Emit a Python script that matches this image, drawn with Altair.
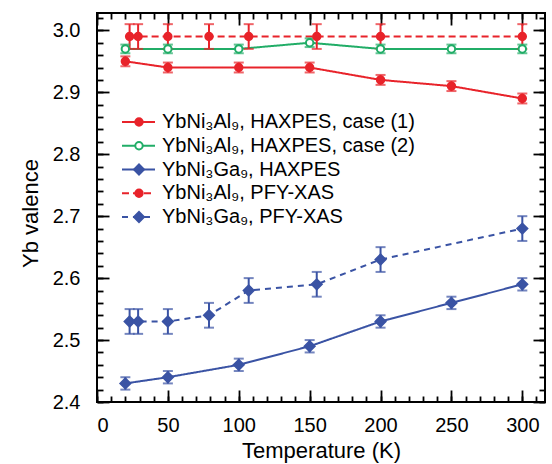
import altair as alt
import pandas as pd

# ---------------- data ----------------
series_names = ["al_hax1", "al_hax2", "ga_hax", "al_pfy", "ga_pfy"]
legend_labels = [
    "YbNi₃Al₉, HAXPES, case (1)",
    "YbNi₃Al₉, HAXPES, case (2)",
    "YbNi₃Ga₉, HAXPES",
    "YbNi₃Al₉, PFY-XAS",
    "YbNi₃Ga₉, PFY-XAS",
]

temp_haxpes = [20, 50, 100, 150, 200, 250, 300]
al_hax_case1 = [2.95, 2.94, 2.94, 2.94, 2.92, 2.91, 2.89]
al_hax_case1_err = [0.008, 0.008, 0.008, 0.008, 0.008, 0.008, 0.008]
al_hax_case2 = [2.97, 2.97, 2.97, 2.98, 2.97, 2.97, 2.97]
al_hax_case2_err = [0.007, 0.007, 0.007, 0.007, 0.007, 0.007, 0.007]
ga_hax = [2.43, 2.44, 2.46, 2.49, 2.53, 2.56, 2.59]
ga_hax_err = [0.01, 0.01, 0.01, 0.01, 0.01, 0.01, 0.01]

temp_pfy = [23, 29, 50, 79, 107, 155, 200, 300]
al_pfy = [2.99, 2.99, 2.99, 2.99, 2.99, 2.99, 2.99, 2.99]
al_pfy_err = [0.02, 0.02, 0.02, 0.02, 0.02, 0.02, 0.02, 0.02]
ga_pfy = [2.53, 2.53, 2.53, 2.54, 2.58, 2.59, 2.63, 2.68]
ga_pfy_err = [0.02, 0.02, 0.02, 0.02, 0.02, 0.02, 0.02, 0.02]

x_major = [0, 50, 100, 150, 200, 250, 300]
x_minor = [0, 10, 20, 30, 40, 50, 60, 70, 80, 90, 100, 110, 120, 130, 140, 150,
           160, 170, 180, 190, 200, 210, 220, 230, 240, 250, 260, 270, 280, 290, 300, 310]
y_major = [2.4, 2.5, 2.6, 2.7, 2.8, 2.9, 3.0]
y_minor = [2.4, 2.42, 2.44, 2.46, 2.48, 2.5, 2.52, 2.54, 2.56, 2.58, 2.6, 2.62, 2.64,
           2.66, 2.68, 2.7, 2.72, 2.74, 2.76, 2.78, 2.8, 2.82, 2.84, 2.86, 2.88, 2.9,
           2.92, 2.94, 2.96, 2.98, 3.0, 3.02]

# ---------------- styles ----------------
colors = ["#e8232a", "#21ad67", "#3a53a4", "#e8232a", "#3a53a4"]
fills = ["#e8232a", "#ffffff", "#3a53a4", "#e8232a", "#3a53a4"]
dashes = [[1, 0], [1, 0], [1, 0], [7, 4], [6, 5]]
FONT = "Liberation Sans"
W, H = 448, 389

frames = []
for name, t, v, e in [
    ("al_hax1", temp_haxpes, al_hax_case1, al_hax_case1_err),
    ("al_hax2", temp_haxpes, al_hax_case2, al_hax_case2_err),
    ("ga_hax", temp_haxpes, ga_hax, ga_hax_err),
    ("al_pfy", temp_pfy, al_pfy, al_pfy_err),
    ("ga_pfy", temp_pfy, ga_pfy, ga_pfy_err),
]:
    frames.append(pd.DataFrame({"series": name, "T": t, "v": v, "err": e}))
df = pd.concat(frames, ignore_index=True)
df["lo"] = df["v"] - df["err"]
df["hi"] = df["v"] + df["err"]

legend_df = pd.DataFrame({"series": series_names, "label": legend_labels,
                          "row": list(range(len(series_names)))})

xs = alt.Scale(domain=[0, 316], nice=False, zero=False)
ys = alt.Scale(domain=[2.4, 3.028], nice=False, zero=False)

color_enc = alt.Color("series:N", scale=alt.Scale(domain=series_names, range=colors), legend=None)
stroke_enc = alt.Stroke("series:N", scale=alt.Scale(domain=series_names, range=colors), legend=None)
fill_enc = alt.Fill("series:N", scale=alt.Scale(domain=series_names, range=fills), legend=None)
dash_enc = alt.StrokeDash("series:N", scale=alt.Scale(domain=series_names, range=dashes), legend=None)

circle_series = ["al_hax1", "al_hax2", "al_pfy"]
diamond_series = ["ga_hax", "ga_pfy"]

# ---------------- axes frame layers ----------------
frame_df = pd.DataFrame({"x": [0], "y": [2.4]})


def tick_axis(orient, values, size, offset):
    # axis placed on the opposite edge so that its ticks point into the plot
    return alt.Axis(orient=orient, values=values, tickSize=size, offset=offset,
                    labels=False, domain=False, grid=False, tickColor="black",
                    tickWidth=1.8, title=None)


def frame(xaxis, yaxis):
    return alt.Chart(frame_df).mark_point(opacity=0).encode(
        x=alt.X("x:Q", scale=xs, axis=xaxis),
        y=alt.Y("y:Q", scale=ys, axis=yaxis),
    )


labels_frame = frame(
    alt.Axis(orient="bottom", values=x_major, ticks=False, domain=False, grid=False,
             labelPadding=13, title="Temperature (K)", titleY=55,
             titleBaseline="alphabetic"),
    alt.Axis(orient="left", values=y_major, ticks=False, domain=False, grid=False,
             labelPadding=17, format=".1f", title="Yb valence", titleX=-67,
             titleY=200, titleBaseline="middle"),
)
bottom_left_major = frame(tick_axis("top", x_major, 12, -H), tick_axis("right", y_major, 12, -W))
bottom_left_minor = frame(tick_axis("top", x_minor, 6, -H), tick_axis("right", y_minor, 6, -W))
top_right_major = frame(tick_axis("bottom", x_major, 12, -H), tick_axis("left", y_major, 12, -W))
top_right_minor = frame(tick_axis("bottom", x_minor, 6, -H), tick_axis("left", y_minor, 6, -W))

# ---------------- data layers ----------------
base = alt.Chart(df)
X = alt.X("T:Q", scale=xs, axis=None)

lines = base.mark_line(strokeWidth=2).encode(
    x=X, y=alt.Y("v:Q", scale=ys, axis=None), color=color_enc, strokeDash=dash_enc)
bars = base.mark_rule(strokeWidth=2).encode(
    x=X, y=alt.Y("lo:Q", scale=ys, axis=None), y2="hi:Q", color=color_enc)
cap_lo = base.mark_tick(orient="horizontal", size=10, thickness=2).encode(
    x=X, y=alt.Y("lo:Q", scale=ys, axis=None), color=color_enc)
cap_hi = base.mark_tick(orient="horizontal", size=10, thickness=2).encode(
    x=X, y=alt.Y("hi:Q", scale=ys, axis=None), color=color_enc)
circles = base.transform_filter(
    alt.FieldOneOfPredicate(field="series", oneOf=circle_series)
).mark_point(shape="circle", size=55, strokeWidth=2, opacity=1, fillOpacity=1).encode(
    x=X, y=alt.Y("v:Q", scale=ys, axis=None), fill=fill_enc, stroke=stroke_enc)
diamonds = base.transform_filter(
    alt.FieldOneOfPredicate(field="series", oneOf=diamond_series)
).mark_point(shape="diamond", size=115, strokeWidth=1.5, opacity=1, fillOpacity=1).encode(
    x=X, y=alt.Y("v:Q", scale=ys, axis=None), fill=fill_enc, stroke=stroke_enc)

data_layer = alt.layer(lines, bars, cap_lo, cap_hi, circles, diamonds)

# ---------------- legend ----------------
lbase = alt.Chart(legend_df)
LY = alt.Y("row:Q", scale=alt.Scale(domain=[0, 4], range=[109, 204]), axis=None)
leg_lines = lbase.mark_rule(strokeWidth=2).encode(
    x=alt.value(25), x2=alt.value(58), y=LY, color=color_enc, strokeDash=dash_enc)
leg_circles = lbase.transform_filter(
    alt.FieldOneOfPredicate(field="series", oneOf=circle_series)
).mark_point(shape="circle", size=55, strokeWidth=2, opacity=1, fillOpacity=1).encode(
    x=alt.value(42), y=LY, fill=fill_enc, stroke=stroke_enc)
leg_diamonds = lbase.transform_filter(
    alt.FieldOneOfPredicate(field="series", oneOf=diamond_series)
).mark_point(shape="diamond", size=115, strokeWidth=1.5, opacity=1, fillOpacity=1).encode(
    x=alt.value(42), y=LY, fill=fill_enc, stroke=stroke_enc)
leg_text = lbase.mark_text(align="left", baseline="middle", font=FONT, fontSize=20,
                           color="black").encode(x=alt.value(65), y=LY, text="label:N")
legend_layer = alt.layer(leg_lines, leg_circles, leg_diamonds, leg_text)

chart = alt.layer(
    labels_frame, bottom_left_major, bottom_left_minor, top_right_major, top_right_minor,
    data_layer, legend_layer,
).resolve_scale(
    x="independent", y="independent"
).properties(
    width=W, height=H,
    autosize=alt.AutoSizeParams(type="none"),
    padding={"left": 97, "top": 13, "right": 7, "bottom": 62},
    background="white",
).configure_view(
    stroke="black", strokeWidth=2
).configure_axis(
    labelFont=FONT, labelFontSize=20, labelColor="black",
    titleFont=FONT, titleFontSize=22, titleColor="black", titleFontWeight="normal",
)

chart.save("out.html", embed_options={"renderer": "svg", "actions": False})
